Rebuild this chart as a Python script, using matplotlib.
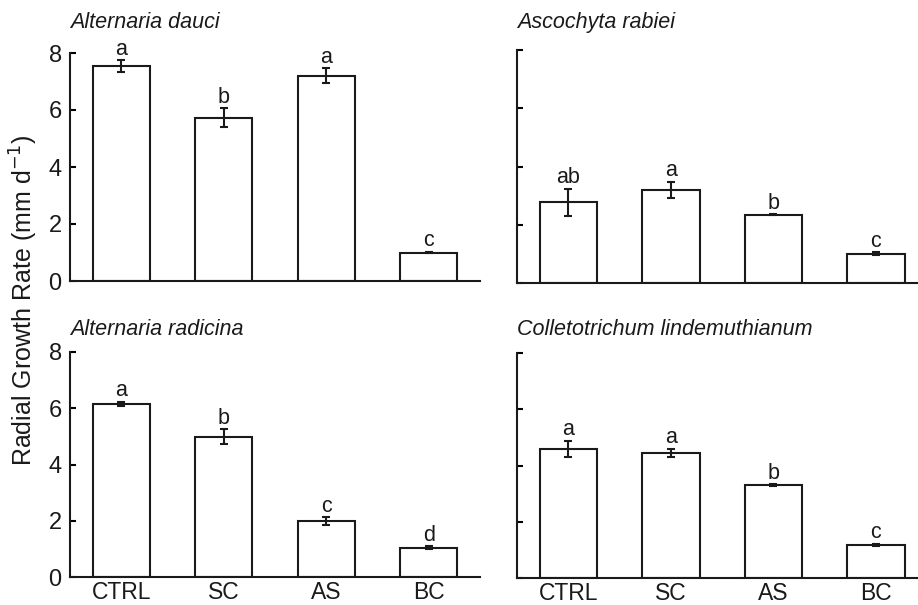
import matplotlib
matplotlib.use("Agg")
import matplotlib.pyplot as plt
import numpy as np

plt.rcParams['font.family'] = ['Liberation Sans', 'DejaVu Sans']

treatments = ["CTRL", "SC", "AS", "BC"]

dauci_mean = [7.55, 5.73, 7.2, 1.0]
dauci_err = [0.2, 0.33, 0.27, 0.03]
dauci_letters = ["a", "b", "a", "c"]

rabiei_mean = [2.77, 3.2, 2.34, 1.0]
rabiei_err = [0.46, 0.27, 0.02, 0.05]
rabiei_letters = ["ab", "a", "b", "c"]

radicina_mean = [6.16, 4.99, 1.98, 1.04]
radicina_err = [0.08, 0.27, 0.14, 0.05]
radicina_letters = ["a", "b", "c", "d"]

colleto_mean = [4.59, 4.46, 3.3, 1.18]
colleto_err = [0.28, 0.14, 0.03, 0.04]
colleto_letters = ["a", "a", "b", "c"]

W, H = 918, 605
fig = plt.figure(figsize=(W / 100, H / 100), dpi=100)


def px_axes(x0, y_top, x1, y_bot):
    return fig.add_axes([x0 / W, 1 - y_bot / H, (x1 - x0) / W, (y_bot - y_top) / H])


def panel(ax, means, errs, letters, title, title_y, show_y, show_x, xmax):
    x = np.arange(len(treatments))
    ax.bar(x, means, width=0.56, color="white", edgecolor="#1a1a1a", linewidth=1.5)
    ax.errorbar(x, means, yerr=errs, fmt="none", ecolor="#1a1a1a",
                elinewidth=1.5, capsize=3, capthick=1.5)
    for xi, m, e, lab in zip(x, means, errs, letters):
        ax.annotate(lab, (xi, m + e), xytext=(0, 4), textcoords="offset points",
                    ha="center", va="baseline", fontsize=15.5, color="#1a1a1a")
    ax.set_xlim(-0.5, xmax)
    ax.set_ylim(0, 8)
    ax.set_yticks([0, 2, 4, 6, 8])
    for s in ["top", "right"]:
        ax.spines[s].set_visible(False)
    for s in ["left", "bottom"]:
        ax.spines[s].set_linewidth(1.5)
        ax.spines[s].set_color("#1a1a1a")
    ax.tick_params(axis="y", direction="in", length=4, width=1.5, labelsize=17,
                   labelleft=show_y, pad=6, labelcolor="#1a1a1a")
    ax.set_xticks(x)
    ax.set_xticklabels(treatments if show_x else [])
    ax.tick_params(axis="x", length=0, labelsize=16.5, pad=3, labelcolor="#1a1a1a")
    x0 = ax.get_position().x0
    fig.text(x0, 1 - title_y / H, title, fontsize=15.5, style="italic",
             ha="left", va="baseline", color="#1a1a1a")


ax1 = px_axes(70, 53, 480, 281)
ax2 = px_axes(517, 50, 918, 283)
ax3 = px_axes(70, 352, 480, 577)
ax4 = px_axes(517, 353, 918, 578)

panel(ax1, dauci_mean, dauci_err, dauci_letters, "Alternaria dauci", 28, True, False, 3.5)
panel(ax2, rabiei_mean, rabiei_err, rabiei_letters, "Ascochyta rabiei", 28, False, False, 3.41)
panel(ax3, radicina_mean, radicina_err, radicina_letters, "Alternaria radicina", 335, True, True, 3.5)
panel(ax4, colleto_mean, colleto_err, colleto_letters, "Colletotrichum lindemuthianum", 335, False, True, 3.41)

fig.text(24 / W, 1 - 300 / H, "Radial Growth Rate (mm d$^{-1}$)", rotation=90,
         ha="center", va="center", fontsize=18, color="#1a1a1a")

fig.savefig("out.png", dpi=100)
